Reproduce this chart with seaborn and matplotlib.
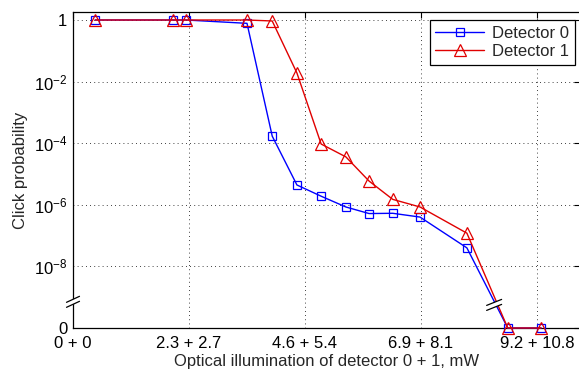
import numpy as np
import pandas as pd
import matplotlib
matplotlib.use('Agg')
import matplotlib.pyplot as plt
import matplotlib.transforms as mtransforms
from matplotlib.patches import Polygon
import seaborn as sns

# Datos (potencia del detector 0 en mW)
power_mw = [0.44, 1.98, 2.24, 3.45, 3.95, 4.44, 4.92, 5.41, 5.87, 6.34, 6.88, 7.81, 8.62, 9.28]
det0 = [1.0, 1.0, 1.0, 0.78, 1.7e-4, 4.4e-6, 1.9e-6, 8.5e-7, 5.2e-7, 5.3e-7, 4.0e-7, 4.0e-8, 0, 0]
det1 = [1.0, 1.0, 1.0, 1.0, 0.93, 1.9e-2, 9.4e-5, 3.6e-5, 5.9e-6, 1.5e-6, 8.5e-7, 1.2e-7, 0, 0]

xticks = [0, 2.3, 4.6, 6.9, 9.2]
xtick_labels = ['0 + 0', '2.3 + 2.7', '4.6 + 5.4', '6.9 + 8.1', '9.2 + 10.8']
yticks = [1e-10, 1e-8, 1e-6, 1e-4, 1e-2, 1]
ytick_labels = ['0', r'$10^{-8}$', r'$10^{-6}$', r'$10^{-4}$', r'$10^{-2}$', '1']

ZERO_LEVEL = 1e-10   # el "0" del eje log
BREAK_LEVEL = 10 ** -9.15

sns.set_style('white')
plt.rcParams['font.family'] = ['Liberation Sans', 'DejaVu Sans']
plt.rcParams['mathtext.fontset'] = 'custom'
plt.rcParams['mathtext.rm'] = 'Liberation Sans'
plt.rcParams['mathtext.it'] = 'Liberation Sans:italic'
plt.rcParams['font.size'] = 12

df = pd.DataFrame({
    'power': power_mw * 2,
    'prob': det0 + det1,
    'detector': ['Detector 0'] * len(det0) + ['Detector 1'] * len(det1),
})
df['prob_plot'] = df['prob'].where(df['prob'] > 0, ZERO_LEVEL)

fig = plt.figure(figsize=(5.79, 3.72), dpi=100)
ax = fig.add_axes([73 / 579, 44 / 372, (580 - 73) / 579, (328 - 12) / 372])

styles = {'Detector 0': ('#0000ff', 's', 6.3), 'Detector 1': ('#e00000', '^', 8.3)}
for name, (col, mk, ms) in styles.items():
    sub = df[df['detector'] == name]
    sns.lineplot(data=sub, x='power', y='prob_plot', ax=ax, color=col, marker=mk,
                 markersize=ms, mfc='none', mec=col, mew=0.9, linewidth=1.0,
                 label=name, clip_on=False, zorder=3)

ax.set_yscale('log')
ax.set_xlim(0, (580 - 73) / 116 * 2.3)
ax.set_ylim(ZERO_LEVEL, 10 ** 0.26)
ax.set_xticks(xticks)
ax.set_xticklabels(xtick_labels)
ax.set_yticks(yticks)
ax.set_yticklabels(ytick_labels)
ax.minorticks_off()
ax.tick_params(direction='in', length=4, width=0.8, top=True, right=True,
               labelsize=12, colors='black')
ax.tick_params(axis='x', pad=6)
ax.tick_params(axis='y', pad=4)
ax.grid(True, color='black', linestyle=(0, (1, 4)), linewidth=0.6)
for s in ax.spines.values():
    s.set_color('black')
    s.set_linewidth(0.9)

ax.set_xlabel('Optical illumination of detector 0 + 1, mW', fontsize=12, labelpad=2)
ax.set_ylabel('Click probability', fontsize=12, labelpad=4)

leg = ax.legend(loc='upper right', bbox_to_anchor=(575 / 579, 1 - 20 / 372),
                bbox_transform=fig.transFigure, borderaxespad=0, fancybox=False,
                framealpha=1, edgecolor='black', handlelength=2.9, fontsize=12,
                borderpad=0.35, labelspacing=0.2, handletextpad=0.5)
leg.get_frame().set_linewidth(0.9)


def break_mark(trans, wide=0.13, tall=0.06, gap=0.05):
    # dos barras inclinadas con hueco blanco, en pulgadas alrededor del punto
    hw, ht, hg = wide / 2, tall / 2, gap / 2
    lo = [(-hw, -ht - hg), (hw, ht - hg)]
    hi = [(-hw, -ht + hg), (hw, ht + hg)]
    ax.add_patch(Polygon([lo[0], lo[1], hi[1], hi[0]], closed=True, facecolor='white',
                         edgecolor='none', transform=trans, clip_on=False, zorder=5))
    for seg in (lo, hi):
        ax.plot([seg[0][0], seg[1][0]], [seg[0][1], seg[1][1]], color='black',
                linewidth=0.9, transform=trans, clip_on=False, zorder=6)


# corte en el eje y
break_mark(fig.dpi_scale_trans +
           mtransforms.ScaledTranslation(0, BREAK_LEVEL, ax.get_yaxis_transform()))
# corte sobre las curvas
break_mark(fig.dpi_scale_trans +
           mtransforms.ScaledTranslation(8.35, 10 ** -9.25, ax.transData), wide=0.15)

fig.savefig('out.png', dpi=100)
